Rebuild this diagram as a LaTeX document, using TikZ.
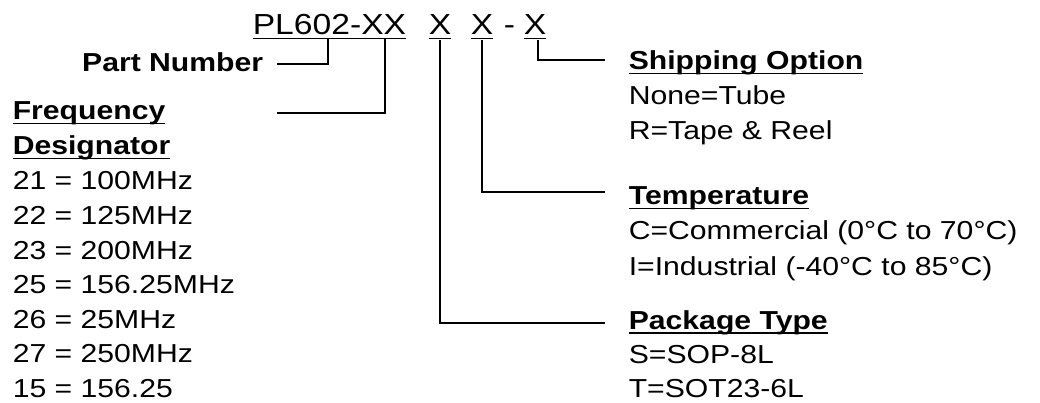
\documentclass[tikz,border=0pt]{standalone}
\usepackage{fontspec}
\setmainfont{Liberation Sans}[FakeStretch=1.16]
\newcommand\ulbox[1]{\setbox0\hbox{#1}\rlap{\rule[-4.5pt]{\wd0}{1.6pt}}\box0}
\tikzset{
  txt/.style={anchor=base west, inner sep=0pt, font=\fontsize{26}{35}\selectfont},
  head/.style={txt, font=\fontsize{26}{35}\selectfont\bfseries},
  ttl/.style={anchor=base west, inner sep=0pt, font=\fontsize{29}{35}\selectfont},
}
\begin{document}
\begin{tikzpicture}[x=1pt,y=-1pt,line width=1.6pt]
\useasboundingbox (0,0) rectangle (1040,403);

% ordering code
\node[ttl] (base) at (252,35) {\ulbox{PL602-XX}};
\node[ttl] (xpkg) at (428,35) {\ulbox{X}};
\node[ttl] (xtemp) at (470,35) {\ulbox{X}};
\node[ttl] (dash) at (503,35) {-};
\node[ttl] (xship) at (523,35) {\ulbox{X}};

% left side
\node[head,anchor=base east] (partno) at (264,72) {Part Number};
\node[head] (freq) at (12,120) {\ulbox{Frequency}};
\node[head] (desig) at (12,155) {\ulbox{Designator}};
\node[txt] (f21) at (12,190) {21 = 100MHz};
\node[txt] (f22) at (12,224.5) {22 = 125MHz};
\node[txt] (f23) at (12,259) {23 = 200MHz};
\node[txt] (f25) at (12,293.5) {25 = 156.25MHz};
\node[txt] (f26) at (12,328) {26 = 25MHz};
\node[txt] (f27) at (12,362.5) {27 = 250MHz};
\node[txt] (f15) at (12,397) {15 = 156.25};

% right side
\node[head] (ship) at (628,70) {\ulbox{Shipping Option}};
\node[txt] (tube) at (628,105) {None=Tube};
\node[txt] (reel) at (628,140) {R=Tape \& Reel};
\node[head] (temp) at (628,205) {\ulbox{Temperature}};
\node[txt] (comm) at (628,240) {C=Commercial (0°C to 70°C)};
\node[txt] (indu) at (628,275) {I=Industrial (-40°C to 85°C)};
\node[head] (pkg) at (628,329) {\ulbox{Package Type}};
\node[txt] (sop) at (628,363) {S=SOP-8L};
\node[txt] (sot) at (628,397) {T=SOT23-6L};

% taps and line ends
\coordinate (tapPN) at (328,38);
\coordinate (tapFD) at (385,38);
\coordinate (pnEnd) at (277,64);
\coordinate (fdEnd) at (277,113);
\coordinate (shipEnd) at (605,60);
\coordinate (tempEnd) at (605,192);
\coordinate (pkgEnd) at (605,323);

\draw (tapPN) |- (pnEnd);
\draw (tapFD) |- (fdEnd);
\draw (xpkg.south) |- (pkgEnd);
\draw (xtemp.south) |- (tempEnd);
\draw ([xshift=3]xship.south) |- (shipEnd);
\end{tikzpicture}
\end{document}
